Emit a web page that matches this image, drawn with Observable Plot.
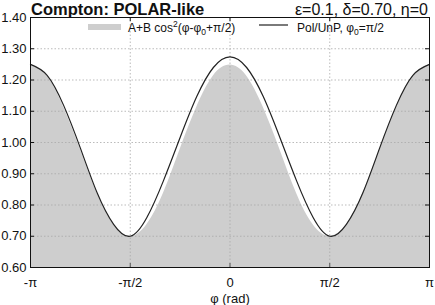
<!DOCTYPE html>
<html>
<head>
<meta charset="utf-8">
<script src="https://cdn.jsdelivr.net/npm/d3@7"></script>
<script src="https://cdn.jsdelivr.net/npm/@observablehq/plot@0.6"></script>
<style>
html,body{margin:0;padding:0;background:#fff;}
</style>
</head>
<body>
<div id="chart"></div>
<script>
// φ in multiples of π/12
const phiSteps = [-12,-11,-10,-9,-8,-7,-6,-5,-4,-3,-2,-1,0,1,2,3,4,5,6,7,8,9,10,11,12];
// Grey histogram: A+B cos²(φ-φ0+π/2)
const greyValues = [1.250,1.213,1.113,0.978,0.838,0.737,0.700,0.737,0.838,0.978,1.113,1.213,1.248,1.213,1.113,0.978,0.838,0.737,0.700,0.737,0.838,0.978,1.113,1.213,1.250];
// Black line: Pol/UnP, φ0=π/2
const lineValues = [1.250,1.215,1.118,0.982,0.840,0.738,0.700,0.760,0.878,1.016,1.147,1.240,1.274,1.240,1.147,1.016,0.878,0.760,0.700,0.738,0.840,0.982,1.118,1.215,1.250];
const yTicks = [0.60,0.70,0.80,0.90,1.00,1.10,1.20,1.30,1.40];
const xTickSteps = [-12,-6,0,6,12];
const xTickLabels = ["-π","-π/2","0","π/2","π"];

const data = phiSteps.map((k,i)=>({phi:k*Math.PI/12, grey:greyValues[i], line:lineValues[i]}));
const xTicks = xTickSteps.map(k=>k*Math.PI/12);
const innerY = yTicks.slice(1,-1);
const innerX = xTicks.slice(1,-1);

const W = 435, H = 305, mL = 30, mR = 6, mT = 17, mB = 38;
const fw = W-mL-mR, fh = H-mT-mB;

const svg = Plot.plot({
  width: W, height: H,
  marginLeft: mL, marginRight: mR, marginTop: mT, marginBottom: mB,
  style: {fontFamily: "'Liberation Sans', Arial, sans-serif", fontSize: "13px", background: "#fff", color: "#111"},
  x: {domain: [-Math.PI, Math.PI]},
  y: {domain: [0.6, 1.4]},
  marks: [
    Plot.areaY(data, {x: "phi", y1: 0.6, y2: "grey", curve: "natural", fill: "#cecece"}),
    Plot.ruleY(innerY, {stroke: "#aaa", strokeDasharray: "1.5,2", strokeWidth: 0.8}),
    Plot.ruleX(innerX, {stroke: "#aaa", strokeDasharray: "1.5,2", strokeWidth: 0.8}),
    Plot.line(data, {x: "phi", y: "line", curve: "natural", stroke: "#222", strokeWidth: 1.2}),
    Plot.ruleY(yTicks, {insetRight: fw-4, stroke: "#111"}),
    Plot.ruleY(yTicks, {insetLeft: fw-4, stroke: "#111"}),
    Plot.ruleX(xTicks, {insetTop: fh-4, stroke: "#555"}),
    Plot.ruleX(xTicks, {insetBottom: fh-4, stroke: "#111"}),
    Plot.frame({stroke: "#111", strokeWidth: 1}),
    Plot.axisY(yTicks, {tickSize: 0, tickPadding: 4, tickFormat: d => d.toFixed(2), fontSize: 13, label: null}),
    Plot.axisX(xTicks, {tickSize: 0, tickPadding: 10, tickFormat: (d,i) => xTickLabels[i], fontSize: 13, label: null}),
    Plot.text(["φ (rad)"], {frameAnchor: "bottom", dy: 31, fontSize: 13, lineAnchor: "middle"})
  ]
});
document.getElementById("chart").appendChild(svg);

const s = d3.select(svg);
s.append("text").attr("x", 31).attr("y", 15).attr("text-anchor", "start")
  .attr("font-size", 16.5).attr("font-weight", "bold").attr("fill", "#111")
  .text("Compton: POLAR-like");
s.append("text").attr("x", 428).attr("y", 15).attr("text-anchor", "end")
  .attr("font-size", 16).attr("fill", "#111")
  .text("ε=0.1, δ=0.70, η=0");

// legend
const lg = s.append("g").attr("font-size", 12).attr("fill", "#111").attr("text-anchor", "start");
lg.append("rect").attr("x", 88).attr("y", 24).attr("width", 33).attr("height", 6).attr("fill", "#cecece");
const t1 = lg.append("text").attr("x", 128).attr("y", 31.5);
t1.append("tspan").text("A+B cos");
t1.append("tspan").attr("dy", -5).attr("font-size", 8.5).text("2");
t1.append("tspan").attr("dy", 5).text("(φ-φ");
t1.append("tspan").attr("dy", 3).attr("font-size", 8.5).text("0");
t1.append("tspan").attr("dy", -3).text("+π/2)");
lg.append("line").attr("x1", 259).attr("x2", 288).attr("y1", 25).attr("y2", 25).attr("stroke", "#222").attr("stroke-width", 1.2);
const t2 = lg.append("text").attr("x", 297).attr("y", 31.5);
t2.append("tspan").text("Pol/UnP, φ");
t2.append("tspan").attr("dy", 3).attr("font-size", 8.5).text("0");
t2.append("tspan").attr("dy", -3).text("=π/2");
</script>
</body>
</html>
